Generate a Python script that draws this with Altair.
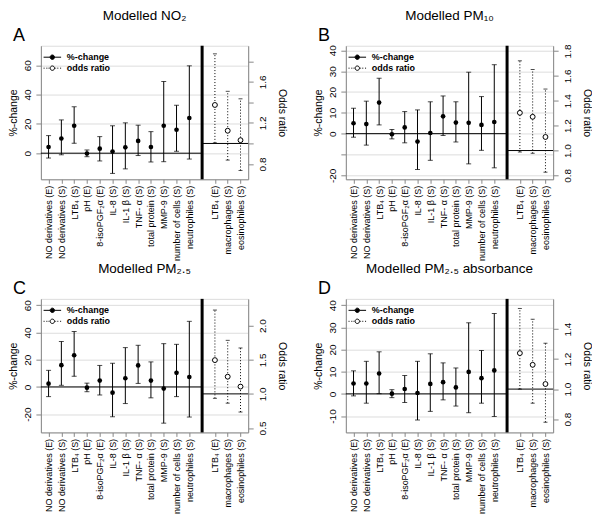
import altair as alt
import pandas as pd

FONT = "Liberation Sans"

# ---------------- categories ----------------
left_measures = ["NO derivatives (E)", "NO derivatives (S)", "LTB₄ (S)", "pH (E)",
                 "8-isoPGF₂α (E)", "IL-8 (S)", "IL-1 β (S)", "TNF- α (S)",
                 "total protein (S)", "MMP-9 (S)", "number of cells (S)", "neutrophiles (S)"]
right_measures = ["LTB₄ (E)", "macrophages (S)", "eosinophiles (S)"]
gap_slot = " "
series_names = ["%-change", "odds ratio"]

panel_letters = ["A", "B", "C", "D"]
panel_titles = ["Modelled NO₂", "Modelled PM₁₀", "Modelled PM₂.₅", "Modelled PM₂.₅ absorbance"]

# ---------------- panel A: NO2 ----------------
pct_est_A = [4.2, 10.0, 18.7, -0.2, 3.1, 1.1, 4.0, 8.4, 4.2, 18.7, 16.0, 24.0]
pct_lo_A = [-3.3, -1.1, 6.7, -2.4, -5.3, -13.8, -10.7, -1.6, -6.0, -5.8, 1.3, -4.0]
pct_hi_A = [12.0, 22.7, 31.6, 2.2, 11.3, 18.7, 20.7, 19.1, 14.7, 48.9, 32.7, 59.6]
or_est_A = [1.375, 1.124, 1.032]
or_lo_A = [1.006, 0.838, 0.737]
or_hi_A = [1.873, 1.508, 1.435]

# ---------------- panel B: PM10 ----------------
pct_est_B = [5.0, 4.6, 14.9, -0.3, 3.0, -3.8, 0.3, 8.3, 5.3, 5.2, 4.2, 5.6]
pct_lo_B = [-1.7, -5.5, 4.2, -2.5, -4.4, -17.2, -12.8, -0.9, -4.0, -14.5, -8.0, -16.4]
pct_hi_B = [12.2, 15.6, 26.6, 2.0, 10.6, 11.4, 15.3, 18.1, 15.3, 29.5, 17.8, 33.1]
or_est_B = [1.303, 1.271, 1.109]
or_lo_B = [0.988, 0.978, 0.826]
or_hi_B = [1.721, 1.651, 1.494]

# ---------------- panel C: PM2.5 ----------------
pct_est_C = [2.4, 16.0, 23.3, -0.5, 4.7, -4.2, 6.4, 15.8, 4.7, -1.2, 10.4, 7.3]
pct_lo_C = [-7.1, 1.2, 7.8, -3.5, -5.9, -21.9, -12.2, 2.6, -8.0, -26.6, -7.1, -22.1]
pct_hi_C = [12.2, 33.4, 40.7, 2.8, 15.8, 17.4, 28.9, 30.6, 18.4, 31.8, 31.3, 48.2]
or_est_C = [1.495, 1.252, 1.107]
or_lo_C = [0.935, 0.864, 0.734]
or_hi_C = [2.229, 1.785, 1.673]

# ---------------- panel D: PM2.5 absorbance ----------------
pct_est_D = [4.7, 4.7, 9.2, 0.1, 2.2, 0.4, 4.5, 5.3, 2.9, 9.9, 7.1, 10.6]
pct_lo_D = [-0.9, -4.2, 0.1, -1.7, -3.9, -11.8, -7.9, -2.7, -5.5, -8.5, -4.2, -10.2]
pct_hi_D = [10.4, 14.7, 19.0, 1.9, 8.3, 14.7, 18.1, 14.0, 11.7, 32.1, 19.6, 36.3]
or_est_D = [1.240, 1.162, 1.034]
or_lo_D = [1.0, 0.906, 0.779]
or_hi_D = [1.538, 1.466, 1.306]

# ---------------- axis ranges and ticks ----------------
pct_domain_A = [-17.8, 73.3]
pct_domain_B = [-21.9, 42.2]
pct_domain_C = [-33.4, 64.7]
pct_domain_D = [-17.4, 42.9]
or_domain_A = [0.651, 1.952]
or_domain_B = [0.769, 1.842]
or_domain_C = [0.435, 2.393]
or_domain_D = [0.711, 1.602]

pct_ticks_A = [0, 20, 40, 60]
pct_ticks_B = [-20, -10, 0, 10, 20, 30, 40]
pct_ticks_C = [-20, 0, 20, 40, 60]
pct_ticks_D = [-10, 0, 10, 20, 30, 40]
pct_labels_A = [0, 20, 40, 60]
pct_labels_B = [-20, 0, 10, 20, 30, 40]
pct_labels_C = [-20, 0, 20, 40, 60]
pct_labels_D = [-10, 0, 10, 20, 30, 40]

or_ticks_A = [0.8, 1.0, 1.2, 1.4, 1.6, 1.8]
or_ticks_B = [0.8, 1.0, 1.2, 1.4, 1.6, 1.8]
or_ticks_C = [0.5, 1.0, 1.5, 2.0]
or_ticks_D = [0.8, 1.0, 1.2, 1.4]
or_labels_A = [0.8, 1.2, 1.6]
or_labels_B = [0.8, 1.0, 1.2, 1.4, 1.6, 1.8]
or_labels_C = [0.5, 1.0, 1.5, 2.0]
or_labels_D = [0.8, 1.0, 1.2, 1.4]

# ---------------- layout ----------------
W = 208
H = 134

x_domain = left_measures + [gap_slot] + right_measures
x_scale = alt.Scale(type="point", domain=x_domain, padding=0.6)
x_axis = alt.Axis(values=left_measures + right_measures, title=None, labelAngle=-90,
                  labelAlign="right", labelBaseline="middle", labelPadding=2,
                  labelFontSize=9, tickSize=4)

legend_path_pct = "M-2.2,0H-0.55M0.55,0H2.2M0.55,0A0.55,0.55,0,1,1,-0.55,0A0.55,0.55,0,1,1,0.55,0Z"
legend_path_or = ("M-2.2,0H-1.95M-1.5,0H-1.25M-0.95,0H-0.75M0.75,0H0.95M1.25,0H1.5M1.95,0H2.2"
                  "M0.55,0A0.55,0.55,0,1,1,-0.55,0A0.55,0.55,0,1,1,0.55,0Z")


def make_legend():
    return alt.Legend(title=None, orient="top-left", offset=7, padding=0,
                      labelFont=FONT, labelFontSize=9, labelFontWeight="bold",
                      labelColor="black", symbolSize=64, symbolStrokeColor="black",
                      symbolStrokeWidth=1, labelOffset=10, rowPadding=1)


def xenc():
    return alt.X("measure:O", scale=x_scale, axis=x_axis)


def xgap():
    return alt.XDatum(gap_slot, type="ordinal", scale=x_scale, axis=x_axis)


def panel(letter, title, est, lo, hi, oest, olo, ohi, pdom, odom, pticks, plabs, oticks, olabs):
    left_df = pd.DataFrame({"measure": left_measures, "est": est, "lo": lo, "hi": hi})
    right_df = pd.DataFrame({"measure": right_measures, "est": oest, "lo": olo, "hi": ohi})

    ysc_l = alt.Scale(domain=pdom, nice=False, zero=False)
    yax_l = alt.Axis(values=pticks, title="%-change", labelAngle=-90, labelAlign="center",
                     labelBaseline="bottom", labelPadding=3, titlePadding=4,
                     titleFontWeight="normal", titleFontSize=10.5, labelFontSize=10,
                     labelExpr="indexof(" + str(plabs) + ", datum.value) >= 0 ? '' + datum.value : ''")
    ysc_r = alt.Scale(domain=odom, nice=False, zero=False)
    olab_int = [int(round(v * 10)) for v in olabs]
    yax_r = alt.Axis(values=oticks, title="Odds ratio", orient="right", labelAngle=-90,
                     labelAlign="center", labelBaseline="top", labelPadding=4, titlePadding=9,
                     titleFontWeight="normal", titleFontSize=10.5, labelFontSize=10,
                     labelExpr="indexof(" + str(olab_int) + ", round(datum.value*10)) >= 0 ? format(datum.value, '.1f') : ''")

    def yl(f):
        return alt.Y(f + ":Q", scale=ysc_l, axis=yax_l)

    def yr(f):
        return alt.Y(f + ":Q", scale=ysc_r, axis=yax_r)

    ref_l = pd.DataFrame({"ref": [0.0]})
    ref_r = pd.DataFrame({"ref": [1.0]})

    rules = alt.Chart(left_df).mark_rule(color="black", strokeWidth=1).encode(
        x=xenc(), y=yl("lo"), y2="hi:Q")
    cap_lo = alt.Chart(left_df).mark_tick(orient="horizontal", size=5, thickness=1, color="black").encode(
        x=xenc(), y=yl("lo"))
    cap_hi = alt.Chart(left_df).mark_tick(orient="horizontal", size=5, thickness=1, color="black").encode(
        x=xenc(), y=yl("hi"))
    zero = alt.Chart(ref_l).mark_rule(color="black", strokeWidth=1).encode(
        x=xgap(), x2=alt.value(0), y=yl("ref"))
    divider = alt.Chart(ref_l).mark_rule(color="black", strokeWidth=3).encode(x=xgap())
    pts = alt.Chart(left_df).mark_point(shape="circle", filled=True, color="black", size=22, opacity=1).encode(
        x=xenc(), y=yl("est"))
    leg_df = pd.DataFrame({"series": series_names})
    leg = alt.Chart(leg_df).transform_filter("false").mark_point(
        stroke="black", strokeWidth=1, opacity=1).encode(
        shape=alt.Shape("series:N", scale=alt.Scale(domain=series_names, range=[legend_path_pct, legend_path_or]),
                        legend=make_legend()),
        fill=alt.Fill("series:N", scale=alt.Scale(domain=series_names, range=["black", "white"]),
                      legend=make_legend()),
        stroke=alt.Stroke("series:N", scale=alt.Scale(domain=series_names, range=["black", "black"]),
                          legend=make_legend()))
    letter_df = pd.DataFrame({"letter": [letter]})
    letter_txt = alt.Chart(letter_df).mark_text(align="left", baseline="alphabetic", font=FONT,
                                                fontSize=18, color="black").encode(
        x=alt.value(-28), y=alt.value(-5), text="letter:N")

    left_group = alt.layer(rules, cap_lo, cap_hi, zero, divider, pts, leg, letter_txt)

    orules = alt.Chart(right_df).mark_rule(color="black", strokeWidth=1, strokeDash=[1, 2]).encode(
        x=xenc(), y=yr("lo"), y2="hi:Q")
    ocap_lo = alt.Chart(right_df).mark_tick(orient="horizontal", size=4, thickness=1, color="black").encode(
        x=xenc(), y=yr("lo"))
    ocap_hi = alt.Chart(right_df).mark_tick(orient="horizontal", size=4, thickness=1, color="black").encode(
        x=xenc(), y=yr("hi"))
    one = alt.Chart(ref_r).mark_rule(color="black", strokeWidth=1).encode(
        x=xgap(), x2=alt.value(W), y=yr("ref"))
    opts = alt.Chart(right_df).mark_point(shape="circle", filled=True, fill="white", stroke="black",
                                          strokeWidth=1, size=24, opacity=1).encode(
        x=xenc(), y=yr("est"))
    right_group = alt.layer(orules, ocap_lo, ocap_hi, one, opts)

    return alt.layer(left_group, right_group).resolve_scale(y="independent").properties(
        width=W, height=H,
        title=alt.TitleParams(text=title, font=FONT, fontSize=13.5, fontWeight="normal",
                              anchor="middle", frame="group", offset=4, color="black"))


pA = panel(panel_letters[0], panel_titles[0], pct_est_A, pct_lo_A, pct_hi_A, or_est_A, or_lo_A, or_hi_A,
           pct_domain_A, or_domain_A, pct_ticks_A, pct_labels_A, or_ticks_A, or_labels_A)
pB = panel(panel_letters[1], panel_titles[1], pct_est_B, pct_lo_B, pct_hi_B, or_est_B, or_lo_B, or_hi_B,
           pct_domain_B, or_domain_B, pct_ticks_B, pct_labels_B, or_ticks_B, or_labels_B)
pC = panel(panel_letters[2], panel_titles[2], pct_est_C, pct_lo_C, pct_hi_C, or_est_C, or_lo_C, or_hi_C,
           pct_domain_C, or_domain_C, pct_ticks_C, pct_labels_C, or_ticks_C, or_labels_C)
pD = panel(panel_letters[3], panel_titles[3], pct_est_D, pct_lo_D, pct_hi_D, or_est_D, or_lo_D, or_hi_D,
           pct_domain_D, or_domain_D, pct_ticks_D, pct_labels_D, or_ticks_D, or_labels_D)


def row(a, b):
    return alt.hconcat(a, b, spacing=26).resolve_scale(
        shape="independent", fill="independent", stroke="independent").resolve_legend(
        shape="independent", fill="independent", stroke="independent")


chart = alt.vconcat(row(pA, pB), row(pC, pD), spacing=0).resolve_scale(
    shape="independent", fill="independent", stroke="independent").resolve_legend(
    shape="independent", fill="independent", stroke="independent").properties(padding=0).configure_view(
    stroke="black", strokeWidth=1).configure_axis(
    grid=False, domain=False, tickColor="black", labelColor="black", titleColor="black",
    labelFont=FONT, titleFont=FONT, titleFontWeight="normal", labelFontSize=10,
    titleFontSize=10.5, tickSize=4).configure(background="white")

chart.save("out.html", embed_options={"renderer": "svg", "actions": False})
